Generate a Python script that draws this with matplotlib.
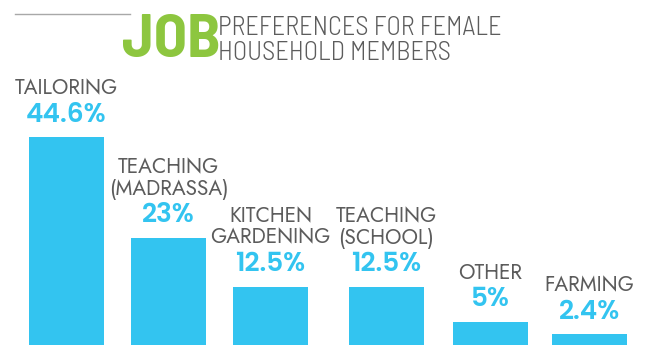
import matplotlib.pyplot as plt
from matplotlib.lines import Line2D

jobs = ["TAILORING", "TEACHING\n(MADRASSA)", "KITCHEN\nGARDENING",
        "TEACHING\n(SCHOOL)", "OTHER", "FARMING"]
shares = [44.6, 23, 12.5, 12.5, 5, 2.4]
share_labels = ["44.6%", "23%", "12.5%", "12.5%", "5%", "2.4%"]

# bar centres in pixel units across the 651 px wide canvas
xpos = [66.5, 168.5, 270.5, 386.5, 490.5, 589.5]

blue = "#33c4f0"
green = "#8dc63f"
grey = "#5c5c5c"

W, H = 651, 345
fig = plt.figure(figsize=(W / 100, H / 100), dpi=100)
ax = fig.add_axes([0, 0, 1, 1])
ax.set_xlim(0, W)
ax.set_ylim(0, 74)
ax.axis("off")

ax.bar(xpos, shares, width=75, color=blue)

for x, v, lab, name in zip(xpos, shares, share_labels, jobs):
    ax.annotate(lab, (x, v), xytext=(0, 11), textcoords="offset points",
                ha="center", va="baseline", color=blue,
                fontsize=19, fontweight=600, family="Poppins")
    ax.annotate(name, (x, v), xytext=(0, 31), textcoords="offset points",
                ha="center", va="baseline", color=grey, linespacing=0.95,
                fontsize=15, family="Jost", multialignment="center")

# header
fig.add_artist(Line2D([15 / W, 130 / W], [1 - 14 / H] * 2,
                      color="#a8a8a8", lw=1))
fig.text(122 / W, 1 - 57 / H, "JOB", color=green, fontsize=44,
         fontweight=700, family="Barlow Semi Condensed", va="baseline")
fig.text(218 / W, 1 - 35 / H, "PREFERENCES FOR FEMALE", color=grey,
         fontsize=19, fontweight=300, family="Barlow Semi Condensed",
         va="baseline")
fig.text(218 / W, 1 - 60 / H, "HOUSEHOLD MEMBERS", color=grey,
         fontsize=19, fontweight=300, family="Barlow Semi Condensed",
         va="baseline")

fig.savefig("out.png", dpi=100)
